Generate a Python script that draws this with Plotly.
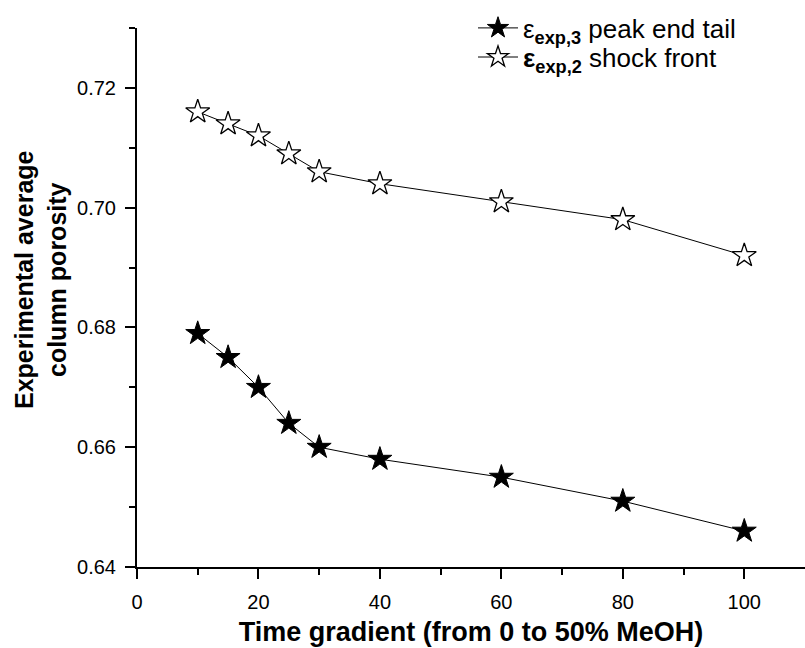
import plotly.graph_objects as go

time_gradient = [10, 15, 20, 25, 30, 40, 60, 80, 100]
eps_exp3_peak_end_tail = [0.679, 0.675, 0.670, 0.664, 0.660, 0.658, 0.655, 0.651, 0.646]
eps_exp2_shock_front = [0.716, 0.714, 0.712, 0.709, 0.706, 0.704, 0.701, 0.698, 0.692]
x_ticks = [0, 20, 40, 60, 80, 100]
y_ticks = [0.64, 0.66, 0.68, 0.70, 0.72]

FONT = "Liberation Sans"

fig = go.Figure()
fig.add_trace(go.Scatter(
    x=time_gradient, y=eps_exp3_peak_end_tail, mode="lines+markers",
    name="ε<sub><b>exp,3</b></sub> peak end tail",
    line=dict(color="black", width=1),
    marker=dict(symbol="star", size=18, color="black", line=dict(color="black", width=1)),
    legend="legend",
))
fig.add_trace(go.Scatter(
    x=time_gradient, y=eps_exp2_shock_front, mode="lines+markers",
    name="<b>ε</b><sub><b>exp,2</b></sub> shock front",
    line=dict(color="black", width=1),
    marker=dict(symbol="star", size=18, color="white", line=dict(color="black", width=1.3)),
    legend="legend2",
))

axis_common = dict(
    showline=True, linecolor="black", linewidth=2, showgrid=False, zeroline=False,
    ticks="outside", ticklen=10, tickwidth=1.5, tickcolor="black",
    tickfont=dict(family=FONT, size=20, color="black"),
)
fig.update_xaxes(range=[0, 110], tickvals=x_ticks, ticklabelstandoff=6,
                 minor=dict(tickvals=[10, 30, 50, 70, 90], ticks="outside", ticklen=6, tickwidth=1.5, tickcolor="black"),
                 title=dict(text="<b>Time gradient (from 0 to 50% MeOH)</b>",
                            font=dict(family=FONT, size=27, color="black"), standoff=10),
                 **axis_common)
fig.update_yaxes(range=[0.64, 0.73], tickvals=y_ticks, tickformat=".2f", ticklabelstandoff=5,
                 minor=dict(tickvals=[0.65, 0.67, 0.69, 0.71, 0.73], ticks="outside", ticklen=6, tickwidth=1.5, tickcolor="black"),
                 **axis_common)

fig.add_annotation(
    text="<b>Experimental average<br>column porosity</b>",
    xref="paper", yref="paper", x=0, y=(567 - 280) / 539, xshift=-97,
    xanchor="center", yanchor="middle", textangle=-90, showarrow=False,
    font=dict(family=FONT, size=25, color="black"),
)

legend_common = dict(xanchor="left", yanchor="middle",
                     font=dict(family=FONT, size=26, color="black"),
                     bgcolor="rgba(0,0,0,0)", itemwidth=40)
fig.update_layout(
    width=805, height=648,
    margin=dict(l=137, r=0, t=28, b=81),
    plot_bgcolor="white", paper_bgcolor="white",
    legend=dict(x=0.503, y=1.0, **legend_common),
    legend2=dict(x=0.503, y=0.946, **legend_common),
    showlegend=True,
)

fig.write_html("out.html")
